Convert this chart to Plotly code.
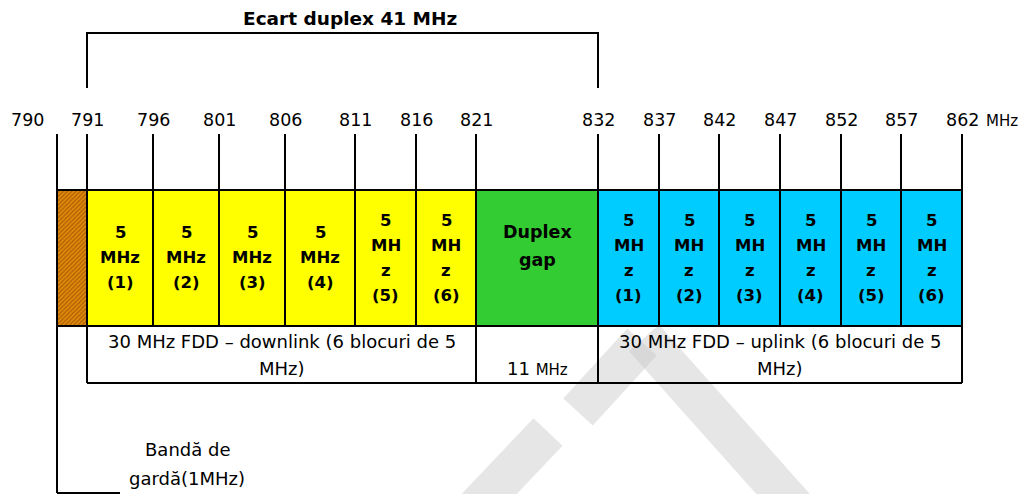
import plotly.graph_objects as go

# ---- data ----
tick_freqs = [790, 791, 796, 801, 806, 811, 816, 821, 832, 837, 842, 847, 852, 857, 862]
block_kind = ["guard", "dl", "dl", "dl", "dl", "dl", "dl", "gap", "ul", "ul", "ul", "ul", "ul", "ul"]
block_mhz = [1, 5, 5, 5, 5, 5, 5, 11, 5, 5, 5, 5, 5, 5]
dl_labels = [["5", "MHz", "(1)"], ["5", "MHz", "(2)"], ["5", "MHz", "(3)"], ["5", "MHz", "(4)"],
             ["5", "MH", "z", "(5)"], ["5", "MH", "z", "(6)"]]
ul_labels = [["5", "MH", "z", "(%d)" % i] for i in range(1, 7)]
gap_label = ["Duplex", "gap"]
title_text = "Ecart duplex 41 MHz"
dl_text = ["30 MHz FDD – downlink (6 blocuri de 5", "MHz)"]
ul_text = ["30 MHz FDD – uplink (6 blocuri de 5", "MHz)"]
gap_text = "11 <span style='font-size:15px'>MHz</span>"
guard_text = ["Bandă de", "gardă(1MHz)"]

# ---- layout positions (diagram is not to scale) ----
tick_px = [57, 87, 153, 219, 285, 355, 416, 476, 598, 659, 719, 780, 841, 901, 962]
label_px = [27] + tick_px[1:]
Y_LABEL, Y_TICK0, Y_TOP, Y_MID, Y_BOT, Y_GUARD = 120, 134, 190, 326, 383, 493

colors = {"guard": "#E38A0A", "dl": "#FFFF00", "gap": "#33CC33", "ul": "#00CCFF"}

fig = go.Figure()

# watermark (light grey chevron)
wm = [((644, 338), (800, 513)), ((578, 412), (642, 342)), ((548, 432), (474, 510))]
shapes = []
for (a, b) in wm:
    shapes.append(dict(type="line", x0=a[0], y0=a[1], x1=b[0], y1=b[1],
                       line=dict(color="rgba(200,200,200,0.45)", width=40), layer="above"))

# blocks as bars
centers = [(tick_px[i] + tick_px[i + 1]) / 2 for i in range(len(block_kind))]
widths = [tick_px[i + 1] - tick_px[i] for i in range(len(block_kind))]
for i, k in enumerate(block_kind):
    if k == "guard":
        marker = dict(color=colors[k], line=dict(width=0),
                      pattern=dict(shape="/", fgcolor="#6a3200", bgcolor="#E38A0A", size=3, solidity=0.4))
    else:
        marker = dict(color=colors[k], line=dict(width=0))
    fig.add_trace(go.Bar(x=[centers[i]], y=[Y_MID - Y_TOP], base=[Y_TOP], width=[widths[i]],
                         marker=marker, showlegend=False, hoverinfo="skip"))

blk = dict(color="black", width=2)
# tick / divider lines
for i, x in enumerate(tick_px):
    y1 = Y_GUARD if i == 0 else (Y_BOT if i in (1, 7, 8, 14) else Y_MID)
    shapes.append(dict(type="line", x0=x, x1=x, y0=Y_TICK0, y1=y1, line=blk, layer="above"))
# horizontals
shapes.append(dict(type="line", x0=tick_px[0], x1=tick_px[-1], y0=Y_TOP, y1=Y_TOP, line=blk, layer="above"))
shapes.append(dict(type="line", x0=tick_px[0], x1=tick_px[-1], y0=Y_MID, y1=Y_MID, line=blk, layer="above"))
shapes.append(dict(type="line", x0=tick_px[1], x1=tick_px[-1], y0=Y_BOT, y1=Y_BOT, line=blk, layer="above"))
shapes.append(dict(type="line", x0=tick_px[0], x1=120, y0=Y_GUARD, y1=Y_GUARD, line=blk, layer="above"))
# bracket
shapes.append(dict(type="path", path="M %d 88 L %d 33 L %d 33 L %d 88" % (tick_px[1], tick_px[1], tick_px[8], tick_px[8]),
                   line=blk, layer="above"))

ann = []
def txt(x, y, s, size=16, bold=False, family="DejaVu Sans"):
    ann.append(dict(x=x, y=y, xref="x", yref="y", text=("<b>%s</b>" % s) if bold else s, showarrow=False,
                    xanchor="center", yanchor="middle",
                    font=dict(family=family, size=size, color="black")))

txt(350, 18, title_text, size=18.5, bold=True)
for f, x in zip(tick_freqs, label_px):
    txt(x, Y_LABEL, str(f), size=17.5)
txt(1002, 121, "MHz", size=15)

dl_i = 0
ul_i = 0
for i, k in enumerate(block_kind):
    cx = centers[i]
    if k == "dl":
        lines = dl_labels[dl_i]; dl_i += 1
    elif k == "ul":
        lines = ul_labels[ul_i]; ul_i += 1
    elif k == "gap":
        for j, s in enumerate(gap_label):
            txt(cx, 232 + 28 * j, s, size=17.5, bold=True)
        continue
    else:
        continue
    y0 = 232 if len(lines) == 3 else 220
    for j, s in enumerate(lines):
        txt(cx, y0 + 25 * j, s, size=16.5, bold=True)

dl_c = (tick_px[1] + tick_px[7]) / 2
ul_c = (tick_px[8] + tick_px[14]) / 2
for j, s in enumerate(dl_text):
    txt(dl_c, 341 + 27 * j, s, size=18)
for j, s in enumerate(ul_text):
    txt(ul_c, 341 + 27 * j, s, size=18)
txt(centers[7], 368, gap_text, size=18)
txt(187, 449, guard_text[0], size=18)
txt(187, 478, guard_text[1], size=18)

fig.update_layout(
    width=1023, height=494, margin=dict(l=0, r=0, t=0, b=0),
    paper_bgcolor="white", plot_bgcolor="white", barmode="overlay",
    xaxis=dict(range=[0, 1023], visible=False, fixedrange=True),
    yaxis=dict(range=[494, 0], visible=False, fixedrange=True),
    shapes=shapes, annotations=ann, showlegend=False,
)
fig.write_html("out.html", config={"displayModeBar": False},
               post_script="document.body.style.margin='0';document.body.style.overflow='hidden';")
